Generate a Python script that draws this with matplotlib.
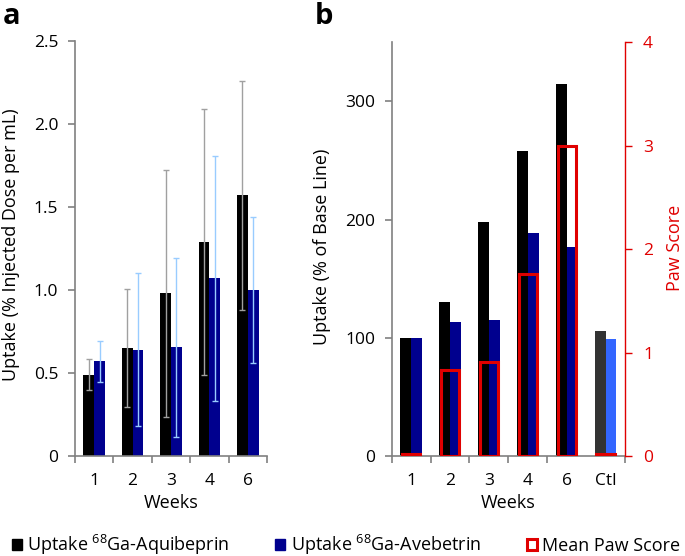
import matplotlib
matplotlib.use("Agg")
import matplotlib.pyplot as plt
from matplotlib.patches import Patch
import numpy as np

plt.rcParams['font.family'] = ['Open Sans', 'DejaVu Sans']
plt.rcParams['mathtext.fontset'] = 'custom'
plt.rcParams['mathtext.rm'] = 'Open Sans'

# ---- data ----
weeks_a = ["1", "2", "3", "4", "6"]
aqui_a = [0.49, 0.65, 0.98, 1.29, 1.57]
aqui_a_err = [0.095, 0.355, 0.745, 0.80, 0.69]
aveb_a = [0.57, 0.64, 0.655, 1.07, 1.00]
aveb_a_err = [0.125, 0.46, 0.54, 0.74, 0.44]

weeks_b = ["1", "2", "3", "4", "6", "Ctl"]
aqui_b = [100, 130, 198, 258, 315, 106]
aveb_b = [100, 113, 115, 189, 177, 99]
paw_b = [0.02, 0.83, 0.91, 1.76, 3.0, 0.02]

aqui_a_yticks = [0, 0.5, 1.0, 1.5, 2.0, 2.5]
aqui_a_yticklabels = ["0", "0.5", "1.0", "1.5", "2.0", "2.5"]

BLACK = "#000000"
NAVY = "#00008e"
CTL_BLACK = "#333333"
CTL_BLUE = "#3366ff"
RED = "#e00000"
AX = "#808080"

TICK = 12.5
LAB = 13

fig = plt.figure(figsize=(6.85, 5.56), dpi=100)

W, H = 685, 556
def rect(l, t, r, b):
    return [l / W, (H - b) / H, (r - l) / W, (b - t) / H]

w = 0.28

def style_left(ax):
    for s in ['top', 'right']:
        ax.spines[s].set_visible(False)
    for s in ['left', 'bottom']:
        ax.spines[s].set_color(AX)
        ax.spines[s].set_linewidth(1.2)
    ax.tick_params(axis='x', which='major', length=0, pad=12, labelsize=TICK)
    ax.tick_params(axis='x', which='minor', length=5, width=1.2, color=AX, direction='out')
    ax.tick_params(axis='y', length=5, width=1.2, color=AX, labelsize=TICK, pad=7)

# ---- panel a ----
axa = fig.add_axes(rect(75, 41, 267, 456))
xa = np.arange(len(weeks_a))
axa.bar(xa - w / 2, aqui_a, w, color=BLACK, zorder=2)
axa.bar(xa + w / 2, aveb_a, w, color=NAVY, zorder=2)
axa.errorbar(xa - w / 2, aqui_a, yerr=aqui_a_err, fmt='none', ecolor="#a0a0a0",
             elinewidth=1, capsize=2.2, capthick=1, zorder=3)
axa.errorbar(xa + w / 2, aveb_a, yerr=aveb_a_err, fmt='none', ecolor="#99ccff",
             elinewidth=1, capsize=2.2, capthick=1, zorder=3)
axa.set_xlim(-0.5, len(weeks_a) - 0.5)
axa.set_ylim(0, 2.5)
axa.set_yticks(aqui_a_yticks)
axa.set_yticklabels(aqui_a_yticklabels)
axa.set_xticks(xa)
axa.set_xticklabels(weeks_a)
axa.set_xticks(np.arange(-0.5, len(weeks_a)), minor=True)
style_left(axa)
axa.set_xlabel("Weeks", fontsize=LAB)
axa.xaxis.label.set_verticalalignment('center')
axa.xaxis.set_label_coords(0.5, (456 - 503) / 415)
axa.set_ylabel("Uptake (% Injected Dose per mL)", fontsize=LAB)
axa.yaxis.label.set_verticalalignment('center')
axa.yaxis.set_label_coords((11 - 75) / 192, (456 - 245) / 415)

# ---- panel b ----
axb = fig.add_axes(rect(391.7, 42.3, 625, 456))
xb = np.arange(len(weeks_b))
c_aq = [BLACK] * 5 + [CTL_BLACK]
c_av = [NAVY] * 5 + [CTL_BLUE]
axb.bar(xb - w / 2, aqui_b, w, color=c_aq, zorder=2)
axb.bar(xb + w / 2, aveb_b, w, color=c_av, zorder=2)
axb.set_xlim(-0.5, len(weeks_b) - 0.5)
axb.set_ylim(0, 350)
axb.set_yticks([0, 100, 200, 300])
axb.set_xticks(xb)
axb.set_xticklabels(weeks_b)
axb.set_xticks([-0.5, 0.5, 1.5, 2.5, 3.5, 5.5], minor=True)
style_left(axb)
axb.set_xlabel("Weeks", fontsize=LAB)
axb.xaxis.label.set_verticalalignment('center')
axb.xaxis.set_label_coords(0.5, (456 - 503) / 413.7)
axb.set_ylabel("Uptake (% of Base Line)", fontsize=LAB)
axb.yaxis.label.set_verticalalignment('center')
axb.yaxis.set_label_coords((322 - 391.7) / 233.3, (456 - 247) / 413.7)

axr = axb.twinx()
axr.bar(xb, paw_b, 0.47, facecolor='none', edgecolor=RED, linewidth=2.2, zorder=4)
axr.set_ylim(0, 4)
axr.set_yticks([0, 1, 2, 3, 4])
axr.tick_params(axis='y', colors=RED, length=5, width=1.0, labelsize=TICK, pad=8)
for s in ['top', 'left', 'bottom']:
    axr.spines[s].set_visible(False)
axr.spines['right'].set_color(RED)
axr.spines['right'].set_linewidth(1.0)
axr.set_ylabel("Paw Score", color=RED, fontsize=LAB)
axr.yaxis.label.set_verticalalignment('center')
axr.yaxis.set_label_coords((675 - 391.7) / 233.3, (456 - 248) / 413.7)

# panel letters
fig.text(3 / W, 1 - 16 / H, "a", fontsize=21, fontweight='bold', va='center', ha='left')
fig.text(315 / W, 1 - 16 / H, "b", fontsize=21, fontweight='bold', va='center', ha='left')

# legend
handles = [
    Patch(facecolor=BLACK, edgecolor=BLACK),
    Patch(facecolor=NAVY, edgecolor=NAVY),
    Patch(facecolor='white', edgecolor=RED, linewidth=2.2),
]
labels = [
    r"Uptake $\mathregular{^{68}}$Ga-Aquibeprin",
    r"Uptake $\mathregular{^{68}}$Ga-Avebetrin",
    "Mean Paw Score",
]
fig.legend(handles, labels, loc='center', bbox_to_anchor=(0.505, 1 - 545 / H), ncol=3,
           frameon=False, fontsize=13, handlelength=0.55, handleheight=0.55,
           handletextpad=0.3, columnspacing=2.55, borderaxespad=0, borderpad=0)

fig.savefig("out.png", dpi=100)
